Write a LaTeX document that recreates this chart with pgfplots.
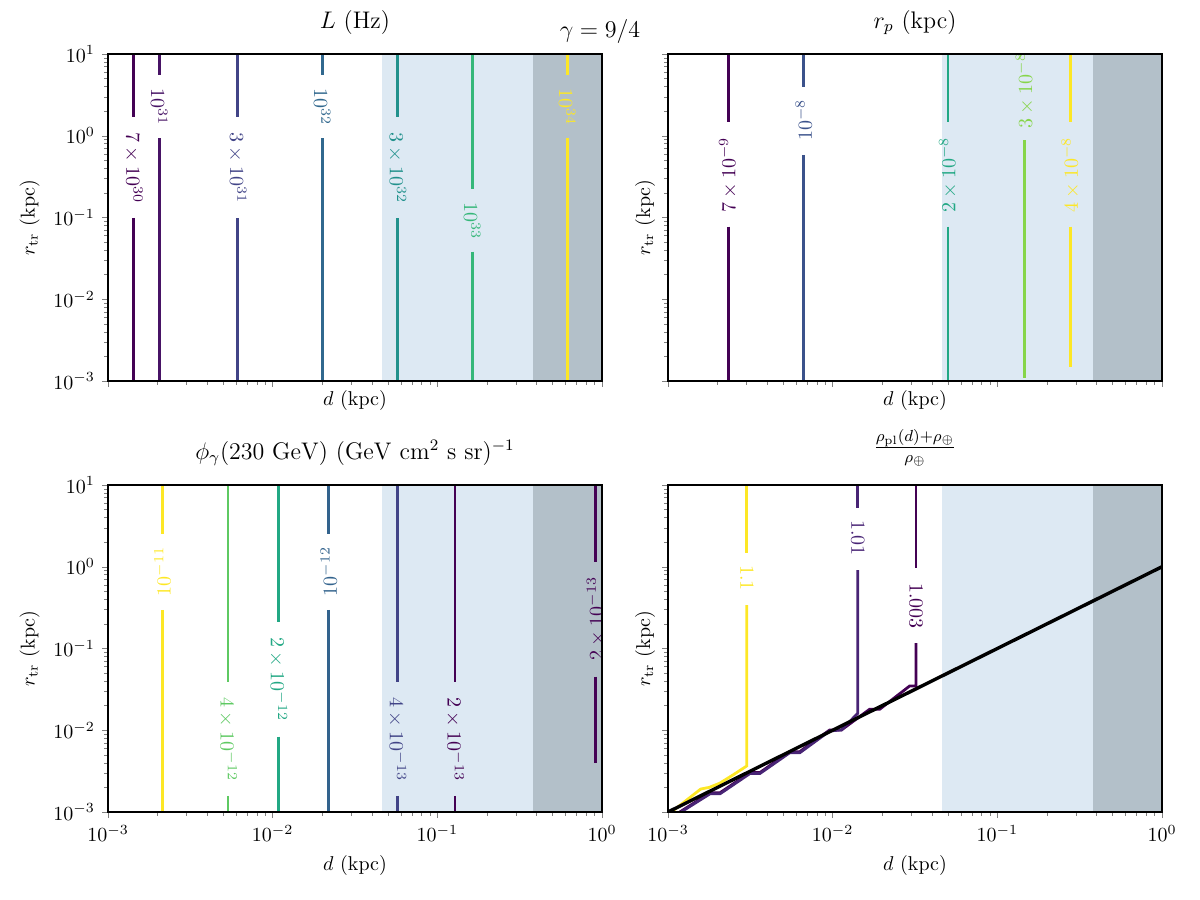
\documentclass[border=0pt]{standalone}
\usepackage{pgfplots}
\pgfplotsset{compat=1.18}
\definecolor{vA}{HTML}{440154}
\definecolor{vB}{HTML}{471365}
\definecolor{vC}{HTML}{482475}
\definecolor{vD}{HTML}{414487}
\definecolor{vE}{HTML}{3B528B}
\definecolor{vF}{HTML}{31688E}
\definecolor{vG}{HTML}{33638D}
\definecolor{vH}{HTML}{21918C}
\definecolor{vI}{HTML}{22A884}
\definecolor{vJ}{HTML}{35B779}
\definecolor{vK}{HTML}{5EC962}
\definecolor{vL}{HTML}{86D549}
\definecolor{vM}{HTML}{FDE725}
\definecolor{shadeblue}{RGB}{221,233,243}
\definecolor{shadegray}{RGB}{179,192,201}
\newcommand{\vseg}[4]{\addplot[#1, line width=1.4pt, forget plot] coordinates {(#2,#3) (#2,#4)};}
\newcommand{\clab}[5]{\node[text=#1, rotate=#2, inner sep=0pt] at (axis cs:#3,#4) {#5};}
\newcommand{\shades}{%
  \addplot[fill=shadeblue, draw=none, forget plot] coordinates {(0.0462,1e-3) (0.0462,10) (0.381,10) (0.381,1e-3)};
  \addplot[fill=shadegray, draw=none, forget plot] coordinates {(0.381,1e-3) (0.381,10) (1,10) (1,1e-3)};
}
\begin{document}
\begin{tikzpicture}
\path[use as bounding box] (0,0) rectangle (600pt,450pt);
\node[font=\large] at (300pt,434pt) {$\gamma = 9/4$};

% Top left: L (Hz)
\begin{axis}[xmode=log, ymode=log, xmin=1e-3, xmax=1, ymin=1e-3, ymax=10,
  scale only axis, width=247pt, height=163.5pt,
  tick pos=left, tick align=outside, axis on top,
  major tick length=3pt, minor tick length=1.8pt,
  axis line style={line width=0.7pt},
  xlabel={$d$ (kpc)}, title style={font=\large}, xlabel shift=-8.5pt,
  at={(54pt,259.5pt)}, anchor=south west,
  title={$L$ (Hz)}, ylabel={$r_{\rm tr}$ (kpc)}, xticklabels={}]
\shades
\vseg{vA}{0.00143}{10}{1.69}\vseg{vA}{0.00143}{0.0986}{1e-3}
\vseg{vB}{0.00205}{10}{5.53}\vseg{vB}{0.00205}{0.931}{1e-3}
\vseg{vD}{0.0061}{10}{1.68}\vseg{vD}{0.0061}{0.0977}{1e-3}
\vseg{vF}{0.0200}{10}{5.53}\vseg{vF}{0.0200}{0.931}{1e-3}
\vseg{vH}{0.057}{10}{1.68}\vseg{vH}{0.057}{0.0977}{1e-3}
\vseg{vJ}{0.163}{10}{0.221}\vseg{vJ}{0.163}{0.0382}{1e-3}
\vseg{vM}{0.615}{10}{5.53}\vseg{vM}{0.615}{0.931}{1e-3}
\clab{vA}{-90}{0.00143}{0.404}{$7\times10^{30}$}
\clab{vB}{-90}{0.00205}{2.22}{$10^{31}$}
\clab{vD}{-90}{0.0061}{0.404}{$3\times10^{31}$}
\clab{vF}{-90}{0.0200}{2.22}{$10^{32}$}
\clab{vH}{-90}{0.057}{0.404}{$3\times10^{32}$}
\clab{vJ}{-90}{0.163}{0.0918}{$10^{33}$}
\clab{vM}{-90}{0.615}{2.22}{$10^{34}$}
\end{axis}

% Top right: r_p (kpc)
\begin{axis}[xmode=log, ymode=log, xmin=1e-3, xmax=1, ymin=1e-3, ymax=10,
  scale only axis, width=247pt, height=163.5pt,
  tick pos=left, tick align=outside, axis on top,
  major tick length=3pt, minor tick length=1.8pt,
  axis line style={line width=0.7pt},
  xlabel={$d$ (kpc)}, title style={font=\large}, xlabel shift=-8.5pt, ylabel shift=-7pt,
  at={(334pt,259.5pt)}, anchor=south west,
  title={$r_p$ (kpc)}, ylabel={$r_{\rm tr}$ (kpc)}, xticklabels={}, yticklabels={}]
\shades
\vseg{vA}{0.00232}{10}{1.49}\vseg{vA}{0.00232}{0.0773}{1e-3}
\vseg{vE}{0.00667}{10}{3.98}\vseg{vE}{0.00667}{0.582}{1e-3}
\vseg{vI}{0.0502}{10}{1.49}\vseg{vI}{0.0502}{0.0773}{1e-3}
\vseg{vL}{0.147}{0.887}{0.00108}
\vseg{vM}{0.278}{10}{1.49}\vseg{vM}{0.278}{0.0773}{0.00147}
\clab{vA}{90}{0.00232}{0.331}{$7\times10^{-9}$}
\clab{vE}{90}{0.00667}{1.56}{$10^{-8}$}
\clab{vI}{90}{0.0502}{0.331}{$2\times10^{-8}$}
\node[text=vL, rotate=90, inner sep=0pt, anchor=east] at (axis cs:0.147,10.5) {$3\times10^{-8}$};
\clab{vM}{90}{0.278}{0.331}{$4\times10^{-8}$}
\end{axis}

% Bottom left: phi_gamma
\begin{axis}[xmode=log, ymode=log, xmin=1e-3, xmax=1, ymin=1e-3, ymax=10,
  scale only axis, width=247pt, height=163.5pt,
  tick pos=left, tick align=outside, axis on top,
  major tick length=3pt, minor tick length=1.8pt,
  axis line style={line width=0.7pt},
  xlabel={$d$ (kpc)}, title style={font=\large},
  at={(54pt,44pt)}, anchor=south west,
  title={$\phi_\gamma(230~\mathrm{GeV})~(\mathrm{GeV~cm^2~s~sr})^{-1}$}, ylabel={$r_{\rm tr}$ (kpc)}]
\shades
\vseg{vM}{0.00214}{10}{2.52}\vseg{vM}{0.00214}{0.296}{1e-3}
\vseg{vK}{0.00535}{10}{0.0393}\vseg{vK}{0.00535}{0.00157}{1e-3}
\vseg{vI}{0.0108}{10}{0.213}\vseg{vI}{0.0108}{0.00834}{1e-3}
\vseg{vG}{0.0219}{10}{2.52}\vseg{vG}{0.0219}{0.296}{1e-3}
\vseg{vD}{0.0571}{10}{0.0393}\vseg{vD}{0.0571}{0.00157}{1e-3}
\vseg{vA}{0.128}{10}{0.0393}\vseg{vA}{0.128}{0.00157}{1e-3}
\vseg{vA}{0.918}{10}{1.15}\vseg{vA}{0.918}{0.0452}{0.00394}
\clab{vM}{90}{0.00214}{0.875}{$10^{-11}$}
\clab{vK}{-90}{0.00535}{0.00771}{$4\times10^{-12}$}
\clab{vI}{-90}{0.0108}{0.0418}{$2\times10^{-12}$}
\clab{vG}{90}{0.0219}{0.875}{$10^{-12}$}
\clab{vD}{-90}{0.0571}{0.00771}{$4\times10^{-13}$}
\clab{vA}{-90}{0.128}{0.00771}{$2\times10^{-13}$}
\clab{vA}{90}{0.918}{0.230}{$2\times10^{-13}$}
\end{axis}

% Bottom right: density ratio
\begin{axis}[xmode=log, ymode=log, xmin=1e-3, xmax=1, ymin=1e-3, ymax=10,
  scale only axis, width=247pt, height=163.5pt,
  tick pos=left, tick align=outside, axis on top,
  major tick length=3pt, minor tick length=1.8pt,
  axis line style={line width=0.7pt},
  xlabel={$d$ (kpc)}, title style={font=\large}, ylabel shift=-7pt,
  at={(334pt,44pt)}, anchor=south west,
  title={$\frac{\rho_{\rm pl}(d)+\rho_\oplus}{\rho_\oplus}$}, ylabel={$r_{\rm tr}$ (kpc)}, yticklabels={}]
\shades
\addplot[vA, line width=1.4pt, forget plot] coordinates {(0.0321,10) (0.0321,0.957)};
\addplot[vA, line width=1.4pt, forget plot] coordinates {(0.0321,0.116) (0.0321,0.0347) (0.0293,0.0347) (0.01928,0.01803) (0.01675,0.01803) (0.01130,0.01007) (0.00959,0.01007) (0.00631,0.00547) (0.00548,0.00547) (0.00361,0.00303) (0.00314,0.00303) (0.00207,0.00172) (0.00180,0.00172) (0.00118,0.001)};
\addplot[vC, line width=1.4pt, forget plot] coordinates {(0.01422,10) (0.01422,5.19)};
\addplot[vC, line width=1.4pt, forget plot] coordinates {(0.01422,0.912) (0.01422,0.0161) (0.0113,0.0101) (0.00959,0.0098) (0.00631,0.0053) (0.00548,0.0053) (0.00361,0.00295) (0.00314,0.00295) (0.00207,0.00167) (0.00180,0.00167) (0.00120,0.001)};
\addplot[vM, line width=1.4pt, forget plot] coordinates {(0.00301,10) (0.00301,1.49)};
\addplot[vM, line width=1.4pt, forget plot] coordinates {(0.00301,0.340) (0.00301,0.00366) (0.00251,0.00288) (0.00207,0.00226) (0.00178,0.00200) (0.00158,0.00191) (0.00105,0.001)};
\addplot[black, line width=1.7pt, forget plot] coordinates {(1e-3,1e-3) (1,1)};
\clab{vM}{-90}{0.00301}{0.728}{$1.1$}
\clab{vC}{-90}{0.01422}{2.25}{$1.01$}
\clab{vA}{-90}{0.0321}{0.331}{$1.003$}
\end{axis}
\end{tikzpicture}
\end{document}
